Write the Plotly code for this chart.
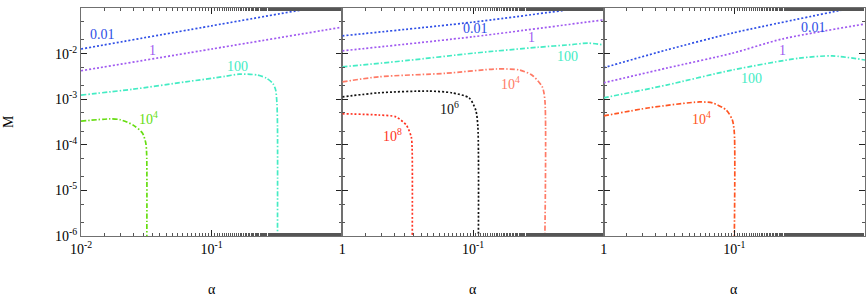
import math
import plotly.graph_objects as go
from plotly.subplots import make_subplots

# ---------------- data ----------------
# Panel 1
p1_a_001 = [0.01, 0.1, 0.59]
p1_m_001 = [0.0126, 0.0407, 0.1]
p1_a_1 = [0.01, 0.1, 1.0]
p1_m_1 = [0.0042, 0.0126, 0.038]
p1_a_100 = [0.01, 0.0251, 0.0631, 0.126, 0.162, 0.224, 0.263, 0.295, 0.309, 0.316, 0.319, 0.319]
p1_m_100 = [0.00123, 0.00166, 0.0024, 0.00316, 0.00355, 0.00339, 0.00288, 0.00219, 0.00158, 0.00079, 0.00025, 1e-6]
p1_a_1e4 = [0.01, 0.0166, 0.02, 0.0251, 0.0295, 0.0313, 0.0318, 0.0319]
p1_m_1e4 = [3.3e-4, 3.7e-4, 3.55e-4, 2.7e-4, 1.82e-4, 1.1e-4, 6.3e-5, 1e-6]

# Panel 2
p2_a_001 = [0.01, 0.1, 0.68]
p2_m_001 = [0.0245, 0.049, 0.1]
p2_a_1 = [0.01, 0.1, 1.0]
p2_m_1 = [0.0115, 0.0234, 0.055]
p2_a_100 = [0.01, 0.0316, 0.1, 0.316, 0.575, 0.76, 1.0]
p2_m_100 = [0.00513, 0.00708, 0.0102, 0.0138, 0.0158, 0.017, 0.0155]
p2_a_1e4 = [0.01, 0.019, 0.0617, 0.151, 0.224, 0.282, 0.339, 0.355, 0.355]
p2_m_1e4 = [0.0024, 0.0031, 0.0037, 0.0046, 0.0044, 0.0034, 0.00186, 0.00095, 1e-6]
p2_a_1e6 = [0.01, 0.019, 0.0457, 0.0692, 0.0933, 0.105, 0.109, 0.11]
p2_m_1e6 = [0.00112, 0.00138, 0.00151, 0.00138, 0.00107, 5.75e-4, 2.45e-4, 1e-6]
p2_a_1e8 = [0.01, 0.019, 0.0257, 0.0309, 0.0337, 0.0342, 0.0343]
p2_m_1e8 = [4.8e-4, 4.5e-4, 4.1e-4, 2.7e-4, 1.48e-4, 8.5e-5, 1e-6]

# Panel 3
p3_a_001 = [0.01, 0.0302, 0.0966, 0.794]
p3_m_001 = [0.0049, 0.012, 0.0282, 0.1]
p3_a_1 = [0.01, 0.0302, 0.0966, 0.232, 1.0]
p3_m_1 = [0.00229, 0.00479, 0.0102, 0.0209, 0.0447]
p3_a_100 = [0.01, 0.0302, 0.0966, 0.313, 0.56, 1.0]
p3_m_100 = [0.00107, 0.00204, 0.00437, 0.00794, 0.00891, 0.00724]
p3_a_1e4 = [0.01, 0.0224, 0.054, 0.0679, 0.0869, 0.0966, 0.1, 0.1]
p3_m_1e4 = [4.3e-4, 6.5e-4, 8.7e-4, 8.3e-4, 5.75e-4, 3.5e-4, 1.82e-4, 1e-6]

# curve labels: panel, alpha, M, text
lab_panel = [1, 1, 1, 1, 2, 2, 2, 2, 2, 2, 3, 3, 3, 3]
lab_a = [0.0145, 0.0355, 0.158, 0.0331, 0.105, 0.282, 0.531, 0.195, 0.066, 0.024, 0.407, 0.234, 0.135, 0.0562]
lab_m = [0.0257, 0.0115, 0.00513, 3.9e-4, 0.0347, 0.0229, 0.0085, 0.00229, 6.5e-4, 1.62e-4, 0.038, 0.0115, 0.00288, 3.9e-4]
lab_text = ["0.01", "1", "100", "10<sup>4</sup>",
            "0.01", "1", "100", "10<sup>4</sup>", "10<sup>6</sup>", "10<sup>8</sup>",
            "0.01", "1", "100", "10<sup>4</sup>"]

x_tickvals = [0.01, 0.1, 1.0]
x_ticktext = [["10<sup>-2</sup>", "10<sup>-1</sup>", "1"],
              ["", "10<sup>-1</sup>", "1"],
              ["", "10<sup>-1</sup>", "1"]]
y_tickvals = [1e-6, 1e-5, 1e-4, 1e-3, 1e-2, 1e-1]
y_ticktext = ["10<sup>-6</sup>", "10<sup>-5</sup>", "10<sup>-4</sup>",
              "10<sup>-3</sup>", "10<sup>-2</sup>", "10<sup>-1</sup>"]
y_minor = [2e-6, 5e-6, 2e-5, 5e-5, 2e-4, 5e-4, 2e-3, 5e-3, 2e-2, 5e-2]

# ---------------- styles ----------------
BLUE = "#2f4fe6"
PURPLE = "#a05af0"
CYAN = "#44ecc4"
GREEN = "#66dd11"
SALMON = "#ff7a66"
RED = "#ff3322"
BLACK = "#111111"
ORANGE = "#ff5522"

DOT = "2px,2px"
DASHDOT = "5px,2px,1.5px,2px"

lab_color = [BLUE, PURPLE, CYAN, GREEN,
             BLUE, PURPLE, CYAN, SALMON, BLACK, RED,
             BLUE, PURPLE, CYAN, ORANGE]

FONT = "Liberation Serif"

fig = make_subplots(rows=1, cols=3, horizontal_spacing=0.0, shared_yaxes=False)

curves = [
    (1, p1_a_001, p1_m_001, BLUE, DOT),
    (1, p1_a_1, p1_m_1, PURPLE, DOT),
    (1, p1_a_100, p1_m_100, CYAN, DASHDOT),
    (1, p1_a_1e4, p1_m_1e4, GREEN, DASHDOT),
    (2, p2_a_001, p2_m_001, BLUE, DOT),
    (2, p2_a_1, p2_m_1, PURPLE, DOT),
    (2, p2_a_100, p2_m_100, CYAN, DASHDOT),
    (2, p2_a_1e4, p2_m_1e4, SALMON, DASHDOT),
    (2, p2_a_1e6, p2_m_1e6, BLACK, DOT),
    (2, p2_a_1e8, p2_m_1e8, RED, DOT),
    (3, p3_a_001, p3_m_001, BLUE, DOT),
    (3, p3_a_1, p3_m_1, PURPLE, DOT),
    (3, p3_a_100, p3_m_100, CYAN, DASHDOT),
    (3, p3_a_1e4, p3_m_1e4, ORANGE, DASHDOT),
]
for col, a, m, c, d in curves:
    fig.add_trace(go.Scatter(x=a, y=m, mode="lines",
                             line=dict(color=c, width=1.7, dash=d, shape="spline", smoothing=0.7),
                             showlegend=False, hoverinfo="skip"),
                  row=1, col=col)

# annotations on log axes take log10 positions
for p, a, m, t, c in zip(lab_panel, lab_a, lab_m, lab_text, lab_color):
    suf = "" if p == 1 else str(p)
    fig.add_annotation(x=math.log10(a), y=math.log10(m), text=t, showarrow=False,
                       xref="x" + suf, yref="y" + suf, xanchor="center", yanchor="middle",
                       font=dict(family=FONT, size=14, color=c))

AX = "#707070"
for i in range(3):
    fig.update_xaxes(type="log", range=[-2, 0], tickvals=x_tickvals, ticktext=x_ticktext[i],
                     ticks="inside", ticklen=6, tickcolor="#222", mirror="allticks",
                     showline=True, linecolor=AX, linewidth=1.3, showgrid=False, zeroline=False,
                     minor=dict(ticks="inside", ticklen=3, tickcolor="#555", showgrid=False),
                     tickfont=dict(family=FONT, size=14, color="#000"), automargin=False,
                     row=1, col=i + 1)
    fig.update_yaxes(type="log", range=[-6, -1], tickvals=y_tickvals, ticktext=y_ticktext,
                     showticklabels=(i == 0),
                     ticks="inside", ticklen=6, tickcolor="#222", mirror="allticks",
                     showline=True, linecolor=AX, linewidth=1.3, showgrid=False, zeroline=False,
                     minor=dict(ticks="inside", ticklen=3, tickcolor="#555", showgrid=False,
                                tickvals=y_minor),
                     tickfont=dict(family=FONT, size=14, color="#000"), automargin=False,
                     row=1, col=i + 1)

for xc in [1 / 6, 0.5, 5 / 6]:
    fig.add_annotation(x=xc, y=-0.235, xref="paper", yref="paper", text="α", showarrow=False,
                       xanchor="center", yanchor="middle",
                       font=dict(family=FONT, size=14, color="#000"))
fig.add_annotation(x=-0.093, y=0.5, xref="paper", yref="paper", text="M", showarrow=False,
                   xanchor="center", yanchor="middle",
                   textangle=-90, font=dict(family=FONT, size=14, color="#000"))

fig.update_layout(width=868, height=298, margin=dict(l=81, r=3, t=8, b=62),
                  plot_bgcolor="white", paper_bgcolor="white", showlegend=False)

fig.write_html("out.html", config={"displayModeBar": False},
               post_script="document.body.style.margin='0';")
